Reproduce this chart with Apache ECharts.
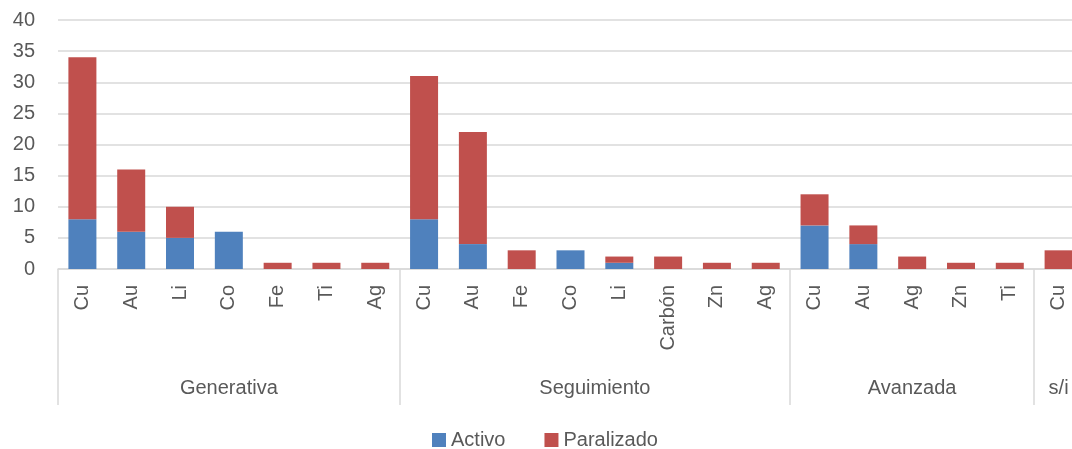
<!DOCTYPE html>
<html>
<head>
<meta charset="utf-8">
<script src="https://cdn.jsdelivr.net/npm/echarts@6/dist/echarts.min.js"></script>
<style>
  html, body { margin: 0; padding: 0; background: #ffffff; }
  #chart { width: 1072px; height: 449px; }
</style>
</head>
<body>
<div id="chart"></div>
<script>
// Minerals per project, grouped by exploration stage
const minerals = ['Cu', 'Au', 'Li', 'Co', 'Fe', 'Ti', 'Ag',
                  'Cu', 'Au', 'Fe', 'Co', 'Li', 'Carbón', 'Zn', 'Ag',
                  'Cu', 'Au', 'Ag', 'Zn', 'Ti',
                  'Cu'];
const stageNames = ['Generativa', 'Seguimiento', 'Avanzada', 's/i'];
const stageCounts = [7, 8, 5, 1];
const activo =     [8, 6, 5, 6, 0, 0, 0,  8, 4, 0, 3, 1, 0, 0, 0,  7, 4, 0, 0, 0,  0];
const paralizado = [26, 10, 5, 0, 1, 1, 1,  23, 18, 3, 0, 1, 2, 1, 1,  5, 3, 2, 1, 1,  3];
const yTicks = { min: 0, max: 40, step: 5 };

// Stage boundaries (category index where each stage begins) and label midpoints
const stageStarts = [];
const stageMid = {};
let acc = 0;
stageCounts.forEach((n, i) => {
  stageStarts.push(acc);
  stageMid[(acc + n / 2).toFixed(1)] = stageNames[i];
  acc += n;
});

const FONT = '"Liberation Sans", Arial, sans-serif';
const TXT = '#595959';
const GRID = '#d9d9d9';

const chart = echarts.init(document.getElementById('chart'), null, { renderer: 'canvas' });
chart.setOption({
  animation: false,
  textStyle: { fontFamily: FONT },
  grid: {
    left: 58, top: 20, width: 1025, height: 249,
    containLabel: false,
    outerBoundsMode: 'none'
  },
  legend: {
    left: 432,
    top: 430,
    padding: 0,
    itemWidth: 14,
    itemHeight: 14,
    itemGap: 39,
    icon: 'rect',
    textStyle: { fontFamily: FONT, fontSize: 20, color: TXT, lineHeight: 20 },
    data: ['Activo', 'Paralizado']
  },
  xAxis: [
    {
      type: 'category',
      data: minerals,
      boundaryGap: true,
      axisLine: { show: true, lineStyle: { color: GRID, width: 1.5 } },
      axisTick: {
        show: true,
        interval: (i) => stageStarts.indexOf(i) !== -1,
        length: 136,
        lineStyle: { color: GRID, width: 1.5 }
      },
      axisLabel: {
        interval: 0,
        rotate: 90,
        margin: 16,
        fontFamily: FONT,
        fontSize: 20,
        color: TXT
      },
      splitLine: { show: false }
    },
    {
      type: 'value',
      position: 'bottom',
      offset: 100,
      min: 0,
      max: minerals.length,
      interval: 0.5,
      axisLine: { show: false },
      axisTick: { show: false },
      splitLine: { show: false },
      axisLabel: {
        margin: 9,
        fontFamily: FONT,
        fontSize: 20,
        color: TXT,
        showMinLabel: true,
        showMaxLabel: true,
        formatter: (v) => stageMid[Number(v).toFixed(1)] || ''
      }
    }
  ],
  yAxis: {
    type: 'value',
    min: yTicks.min,
    max: yTicks.max,
    interval: yTicks.step,
    axisLine: { show: false },
    axisTick: { show: false },
    axisLabel: { margin: 23, fontFamily: FONT, fontSize: 20, color: TXT },
    splitLine: { lineStyle: { color: GRID, width: 1.5 } }
  },
  series: [
    {
      name: 'Activo',
      type: 'bar',
      stack: 'total',
      barWidth: 28,
      data: activo,
      itemStyle: { color: '#4f81bd' }
    },
    {
      name: 'Paralizado',
      type: 'bar',
      stack: 'total',
      barWidth: 28,
      data: paralizado,
      itemStyle: { color: '#c0504d' }
    }
  ]
});
</script>
</body>
</html>
